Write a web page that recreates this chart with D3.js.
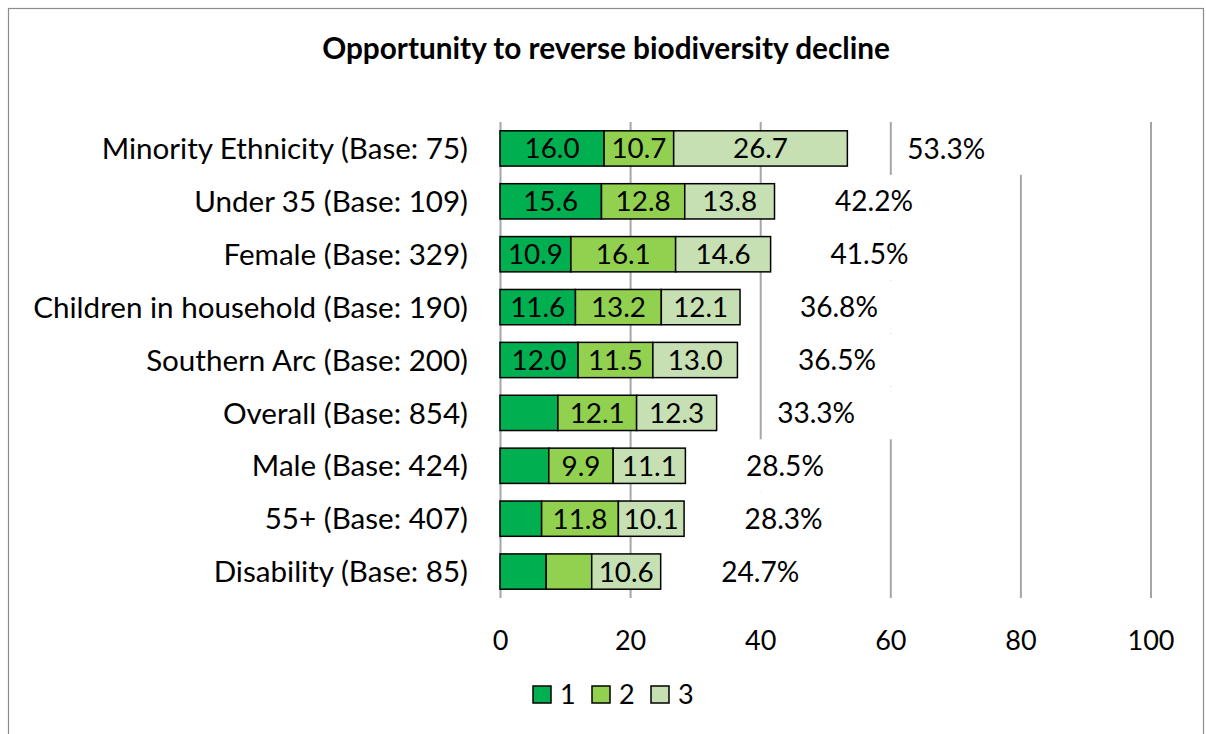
<!DOCTYPE html>
<html>
<head>
<meta charset="utf-8">
<script src="https://cdn.jsdelivr.net/npm/d3@7/dist/d3.min.js"></script>
<style>
  html, body { margin: 0; padding: 0; background: #fff; }
  svg { display: block; font-family: Lato, "Open Sans", sans-serif; }
</style>
</head>
<body>
<svg id="chart" width="1206" height="734"></svg>
<script>
// Survey groups, top to bottom
const categories = [
  "Minority Ethnicity (Base: 75)",
  "Under 35 (Base: 109)",
  "Female (Base: 329)",
  "Children in household (Base: 190)",
  "Southern Arc (Base: 200)",
  "Overall (Base: 854)",
  "Male (Base: 424)",
  "55+ (Base: 407)",
  "Disability (Base: 85)"
];

// Share of respondents scoring 1, 2 and 3 (percent)
const series1 = [16.0, 15.6, 10.9, 11.6, 12.0, 8.9, 7.5, 6.4, 7.1];
const series2 = [10.7, 12.8, 16.1, 13.2, 11.5, 12.1, 9.9, 11.8, 7.0];
const series3 = [26.7, 13.8, 14.6, 12.1, 13.0, 12.3, 11.1, 10.1, 10.6];

// Combined share per group
const totals = [53.3, 42.2, 41.5, 36.8, 36.5, 33.3, 28.5, 28.3, 24.7];

// Which segment values carry a printed label
const showLabel1 = [true, true, true, true, true, false, false, false, false];
const showLabel2 = [true, true, true, true, true, true, true, true, false];
const showLabel3 = [true, true, true, true, true, true, true, true, true];

const seriesNames = ["1", "2", "3"];
const xTicks = [0, 20, 40, 60, 80, 100];
const titleText = "Opportunity to reverse biodiversity decline";

const colors = ["#00B050", "#92D050", "#C6E0B4"];

const svg = d3.select("#chart");
const margin = { left: 500, right: 55.5, top: 122, bottom: 136 };
const W = 1206, H = 734;

// Font size that makes a sample string span a given width
function fitSize(sample, width, weight) {
  const t = svg.append("text").attr("font-size", 100)
    .attr("font-weight", weight || "normal").text(sample);
  const w = t.node().getComputedTextLength();
  t.remove();
  return 100 * width / w;
}
const catSize = fitSize("Children in household (Base: 190)", 435);
const titleSize = fitSize(titleText, 568, "bold");
const tickSize = fitSize("100", 47);
const barLabelSize = fitSize("16.0", 55);
const totalSize = fitSize("53.3%", 78);

// Chart frame
svg.append("rect")
  .attr("x", 8.5).attr("y", 8.5)
  .attr("width", 1195).attr("height", 740)
  .attr("fill", "#fff").attr("stroke", "#8c8c8c").attr("stroke-width", 1.2);

const x = d3.scaleLinear().domain([0, 100]).range([margin.left, W - margin.right]);
const y = d3.scaleBand().domain(categories).range([margin.top, H - margin.bottom]).paddingInner(0.333).paddingOuter(0.1665);
const yBand = d3.scaleBand().domain(categories).range([margin.top, H - margin.bottom]);

// Vertical gridlines
const grid = svg.append("g")
  .attr("transform", `translate(0,${margin.top})`)
  .call(d3.axisBottom(x).tickValues(xTicks).tickSize(H - margin.bottom - margin.top).tickFormat(""));
grid.select(".domain").remove();
grid.selectAll("line").attr("stroke", "#a6a6a6").attr("stroke-width", 2);

// White backing behind the total labels (hides the gridlines there)
const maskStart = 7.5, maskEnd = 30, labelOffset = 15.3;
svg.append("g").selectAll("rect")
  .data(categories)
  .join("rect")
  .attr("x", (d, i) => x(totals[i] + maskStart))
  .attr("width", (d, i) => x(totals[i] + maskEnd) - x(totals[i] + maskStart))
  .attr("y", d => yBand(d))
  .attr("height", yBand.bandwidth())
  .attr("fill", "#fff");

// Stacked bars
const rows = categories.map((c, i) => ({ cat: c, v: [series1[i], series2[i], series3[i]] }));
const stacked = d3.stack().keys([0, 1, 2]).value((d, k) => d.v[k])(rows);
const shown = [showLabel1, showLabel2, showLabel3];

const layers = svg.append("g").selectAll("g")
  .data(stacked)
  .join("g")
  .attr("fill", (d, k) => colors[k]);

layers.selectAll("rect")
  .data(d => d)
  .join("rect")
  .attr("x", d => x(d[0]))
  .attr("width", d => x(d[1]) - x(d[0]))
  .attr("y", d => y(d.data.cat))
  .attr("height", y.bandwidth())
  .attr("stroke", "#000")
  .attr("stroke-width", 1.5);

layers.each(function (layer, k) {
  d3.select(this).selectAll("text")
    .data(layer.filter((d, i) => shown[k][i]))
    .join("text")
    .attr("x", d => (x(d[0]) + x(d[1])) / 2)
    .attr("y", d => y(d.data.cat) + y.bandwidth() / 2)
    .attr("dy", "0.36em")
    .attr("text-anchor", "middle")
    .attr("fill", "#000")
    .attr("font-size", barLabelSize)
    .text(d => (d[1] - d[0]).toFixed(1));
});

// Total labels
svg.append("g").selectAll("text")
  .data(categories)
  .join("text")
  .attr("x", (d, i) => x(totals[i] + labelOffset))
  .attr("y", d => y(d) + y.bandwidth() / 2)
  .attr("dy", "0.36em")
  .attr("text-anchor", "middle")
  .attr("font-size", totalSize)
  .text((d, i) => totals[i].toFixed(1) + "%");

// Category axis labels
const catAxis = svg.append("g")
  .attr("transform", `translate(${margin.left},0)`)
  .call(d3.axisLeft(y).tickSize(0).tickPadding(32));
catAxis.select(".domain").remove();
catAxis.selectAll("text")
  .attr("font-size", catSize).attr("font-family", "Lato, 'Open Sans', sans-serif")
  .attr("fill", "#000").attr("dy", "0.36em");

// Value axis tick labels
const valAxis = svg.append("g")
  .attr("transform", `translate(0,${H - margin.bottom})`)
  .call(d3.axisBottom(x).tickValues(xTicks).tickSize(0).tickPadding(0));
valAxis.select(".domain").remove();
valAxis.selectAll("text")
  .attr("y", 42).attr("dy", "0.36em")
  .attr("font-size", tickSize).attr("font-family", "Lato, 'Open Sans', sans-serif").attr("fill", "#000");

// Title
svg.append("text")
  .attr("x", 606).attr("y", 48).attr("dy", "0.36em")
  .attr("text-anchor", "middle")
  .attr("font-size", titleSize).attr("font-weight", "bold")
  .text(titleText);

// Legend
const legend = svg.append("g").attr("transform", "translate(533,686)");
const item = legend.selectAll("g")
  .data(seriesNames)
  .join("g")
  .attr("transform", (d, i) => `translate(${i * 59},0)`);
item.append("rect")
  .attr("width", 18).attr("height", 17)
  .attr("fill", (d, i) => colors[i])
  .attr("stroke", "#000").attr("stroke-width", 1.5);
item.append("text")
  .attr("x", 27).attr("y", 8.5).attr("dy", "0.36em")
  .attr("font-size", tickSize)
  .text(d => d);
</script>
</body>
</html>
